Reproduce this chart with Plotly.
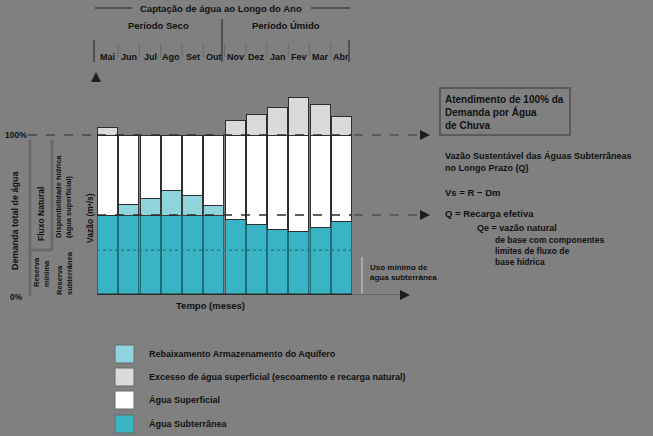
import plotly.graph_objects as go

# ---------------- data ----------------
months = ["Mai", "Jun", "Jul", "Ago", "Set", "Out", "Nov", "Dez", "Jan", "Fev", "Mar", "Abr"]
demand = [100, 100, 100, 100, 100, 100, 100, 100, 100, 100, 100, 100]
groundwater = [50, 50, 50, 50, 50, 50, 47, 44, 41, 39.5, 42.5, 46]
depletion = [0, 6.5, 10.5, 15.5, 12, 6, 0, 0, 0, 0, 0, 0]
excess = [5, 0, 0, 0, 0, 0, 9, 13, 17, 23.5, 19, 11.5]
surface = [d - g - p for d, g, p in zip(demand, groundwater, depletion)]

legend_labels = [
    "Rebaixamento Armazenamento do Aquífero",
    "Excesso de água superficial (escoamento e recarga natural)",
    "Água Superficial",
    "Água Subterrânea",
]

BG = "#808080"
TEAL = "#3ab3c4"
LTEAL = "#8fd3dd"
LGRAY = "#dadada"
WHITE = "#ffffff"
EDGE = "#2e2e2e"
TXT = "#111111"
W, H = 653, 436


def px(x):
    return x / W


def py(y):
    return 1 - y / H


x = list(range(len(months)))
fig = go.Figure()
for vals, col, edge in [(groundwater, TEAL, "#1d6c78"), (depletion, LTEAL, "#3a3a3a"),
                        (surface, WHITE, EDGE), (excess, LGRAY, EDGE)]:
    fig.add_trace(go.Bar(x=x, y=vals, marker=dict(color=col, line=dict(color=edge, width=1)),
                         showlegend=False, hoverinfo="skip"))

shapes = []
ann = []
FONT = dict(family="Liberation Sans, Arial, sans-serif", size=9, color=TXT)


def line(x0, y0, x1, y1, color="#4a4a4a", width=1.5, dash=None):
    shapes.append(dict(type="line", xref="paper", yref="paper",
                       x0=px(x0), x1=px(x1), y0=py(y0), y1=py(y1),
                       line=dict(color=color, width=width, dash=dash), layer="above"))


def hline(x0, x1, yv, color, width, dash=None):
    shapes.append(dict(type="line", xref="paper", yref="y", x0=px(x0), x1=px(x1), y0=yv, y1=yv,
                       line=dict(color=color, width=width, dash=dash), layer="above"))


def text(xp, yp, s, xanchor="left", size=9, angle=0, bold=True, yanchor="middle"):
    f = dict(FONT)
    f["size"] = size
    ann.append(dict(xref="paper", yref="paper", x=px(xp), y=py(yp), text=("<b>%s</b>" % s) if bold else s,
                    showarrow=False, xanchor=xanchor, yanchor=yanchor, textangle=angle, font=f,
                    align="left"))


# reference lines on the chart
hline(97, 352, 100, "#2a2a2a", 1.5, "dash")
hline(97, 352, 50, "#2a2a2a", 1.5, "dash")
hline(97, 352, 28, "#1e7f8e", 1.5, "dot")
hline(97, 352, 0, "#2a2a2a", 3)
# extensions
hline(354, 426, 100, "#5c5c5c", 2, "dash")
hline(354, 426, 50, "#5c5c5c", 2, "dash")
hline(28, 96, 100, "#555555", 2, "dash")
hline(352, 404, 0, "#666666", 2)
line(362, 257, 362, 294, color="#a8a8a8", width=2)

# arrows
for (ax_, ay_) in [(430, 135), (430, 215), (410, 295)]:
    ann.append(dict(xref="paper", yref="paper", x=px(ax_), y=py(ay_), ax=-9, ay=0, text="",
                    showarrow=True, arrowhead=2, arrowsize=1, arrowwidth=2, arrowcolor="#1e1e1e"))
ann.append(dict(xref="paper", yref="paper", x=px(96), y=py(72), ax=0, ay=8, text="",
                showarrow=True, arrowhead=2, arrowsize=1, arrowwidth=2, arrowcolor="#1e1e1e"))

# header
line(95, 8, 132, 8, color="#505050", width=2)
line(311, 8, 350, 8, color="#505050", width=2)
text(221, 8, "Captação de água ao Longo do Ano", xanchor="center", size=9.5)
text(158, 25, "Período Seco", xanchor="center", size=9.5)
text(286, 25, "Período Úmido", xanchor="center", size=9.5)
line(222, 19, 222, 62, color="#505050", width=2)
line(94, 40, 94, 62, color="#505050", width=2)
line(349, 40, 349, 62, color="#505050", width=2)
for i, m in enumerate(months):
    ann.append(dict(xref="x", yref="paper", x=i, y=py(50), text="<b>%s</b>" % m, showarrow=False,
                    font=dict(FONT, size=9)))
    if 0 < i:
        shapes.append(dict(type="line", xref="x", yref="paper", x0=i - 0.5, x1=i - 0.5,
                           y0=py(43), y1=py(57), line=dict(color="#6a6a6a", width=1)))

# left side annotations
text(3, 135, "100%", size=8.5)
text(8, 297, "0%", size=8.5)
line(30, 140, 30, 296, color="#6a6a6a", width=3)
line(52, 140, 52, 250, color="#6a6a6a", width=3)
line(30, 250, 52, 250, color="#6a6a6a", width=3)
text(15, 220, "Demanda total de água", xanchor="center", angle=-90, size=9)
text(41, 214, "Fluxo Natural", xanchor="center", angle=-90, size=8.5)
text(41, 272, "Reserva<br>mínima", xanchor="center", angle=-90, size=7.5)
text(63, 197, "Disponibilidade hídrica<br>(água superficial)", xanchor="center", angle=-90, size=7.5)
text(64, 273, "Reserva<br>subterrânea", xanchor="center", angle=-90, size=7.5)
text(90, 218, "Vazão (m³/s)", xanchor="center", angle=-90, size=8.5)

# x title
text(210, 305, "Tempo (meses)", xanchor="center", size=9.5)
text(368, 272, "Uso mínimo de<br>água subterrânea", size=8)

# right annotations
shapes.append(dict(type="rect", xref="paper", yref="paper", x0=px(440), x1=px(570), y0=py(88), y1=py(135),
                   line=dict(color="#5a5a5a", width=2), fillcolor="rgba(0,0,0,0)"))
text(443, 112, "Atendimento de 100% da<br>Demanda por Água<br>de Chuva", size=10)
text(443, 162, "Vazão Sustentável das Águas Subterrâneas<br>no Longo Prazo (Q)", size=9)
text(443, 193, "Vs = R − Dm", size=9.5)
text(443, 213, "Q = Recarga efetiva", size=9.5)
text(475, 228, "Qe = vazão natural", size=9)
text(493, 251, "de base com componentes<br>limites de fluxo de<br>base hídrica", size=8.5)

# legend
leg_rows = [(354, LTEAL), (377, LGRAY), (400, WHITE), (424, TEAL)]
for (yc, col), lab in zip(leg_rows, legend_labels):
    shapes.append(dict(type="rect", xref="paper", yref="paper", x0=px(115), x1=px(134),
                       y0=py(yc - 9), y1=py(yc + 9), line=dict(color="#6a6a6a", width=1), fillcolor=col))
    text(147, yc, lab, size=9)

fig.update_layout(
    width=W, height=H, margin=dict(l=0, r=0, t=0, b=0),
    paper_bgcolor=BG, plot_bgcolor=BG, barmode="stack", bargap=0.06,
    xaxis=dict(domain=[px(97), px(352)], range=[-0.5, 11.5], visible=False, fixedrange=True),
    yaxis=dict(domain=[py(295), py(87)], range=[0, 130], visible=False, fixedrange=True),
    shapes=shapes, annotations=ann, showlegend=False,
)
fig.write_html("out.html")
